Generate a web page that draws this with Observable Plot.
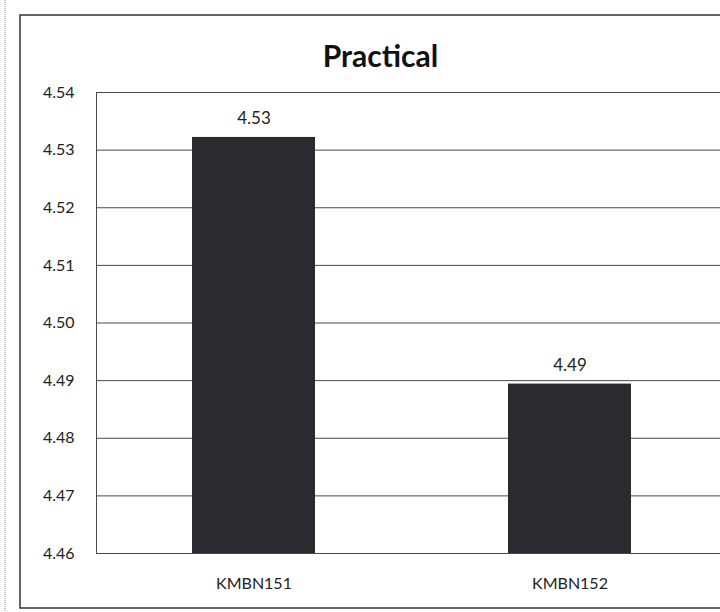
<!DOCTYPE html>
<html>
<head>
<meta charset="utf-8">
<script src="https://cdn.jsdelivr.net/npm/d3@7"></script>
<script src="https://cdn.jsdelivr.net/npm/@observablehq/plot@0.6"></script>
<style>
  html, body { margin: 0; padding: 0; background: #fff; overflow: hidden; width: 720px; height: 612px; }
  #chart svg { display: block; max-width: none !important; }
</style>
</head>
<body>
<div id="chart"></div>
<script>
const title = "Practical";
const categories = ["KMBN151", "KMBN152"];
const values = [4.5322, 4.4894];
const valueLabels = ["4.53", "4.49"];
const yTicks = [4.46, 4.47, 4.48, 4.49, 4.50, 4.51, 4.52, 4.53, 4.54];

const data = categories.map((c, i) => ({category: c, value: values[i], label: valueLabels[i]}));

const font = "Lato, 'Open Sans', sans-serif";

const chart = Plot.plot({
  width: 728,
  height: 612,
  marginLeft: 96,
  marginRight: 0,
  marginTop: 92,
  marginBottom: 59,
  style: {fontFamily: font, fontSize: "16px", color: "#222", background: "#fff", overflow: "visible"},
  x: {domain: categories, paddingInner: 0.61, paddingOuter: 0.305, label: null, tickSize: 0, tickPadding: 24},
  y: {domain: [4.46, 4.54], ticks: yTicks, tickFormat: d => d.toFixed(2), label: null, tickSize: 0, tickPadding: 22},
  marks: [
    Plot.gridY(yTicks, {stroke: "#4a4a4a", strokeOpacity: 1, strokeWidth: 1}),
    Plot.rectY(data, {x: "category", y1: 4.46, y2: "value", fill: "#2b2a2e"}),
    Plot.text(data, {x: "category", y: "value", text: "label", dy: -19, fontSize: 17, fill: "#222"}),
    Plot.text([title], {frameAnchor: "top", dy: -47, dx: -32, fontSize: 30, fontWeight: "bold", fill: "#111"})
  ]
});

// left plot border
d3.select(chart).append("line")
  .attr("x1", 96.5).attr("x2", 96.5).attr("y1", 92).attr("y2", 553)
  .attr("stroke", "#4a4a4a");
// outer chart frame
d3.select(chart).append("rect")
  .attr("x", 20).attr("y", 15).attr("width", 720).attr("height", 593)
  .attr("fill", "none").attr("stroke", "#333").attr("stroke-width", 1.5);
// scan margin line
d3.select(chart).append("line")
  .attr("x1", 5).attr("x2", 5).attr("y1", 0).attr("y2", 612)
  .attr("stroke", "#888").attr("stroke-dasharray", "1,1");

document.getElementById("chart").append(chart);
</script>
</body>
</html>
